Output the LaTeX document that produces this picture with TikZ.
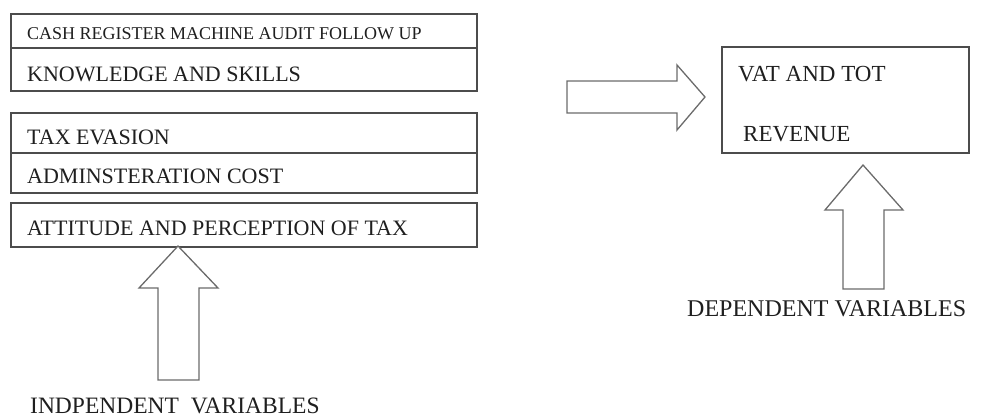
\documentclass[tikz,border=0pt]{standalone}
\usepackage{fontspec}
\setmainfont{Liberation Serif}
\definecolor{linegray}{gray}{0.3}
\definecolor{arrowgray}{gray}{0.42}
\definecolor{textgray}{gray}{0.12}
\begin{document}
\begin{tikzpicture}[x=1pt,y=-1pt,
  box/.style={draw=linegray, line width=1.5pt, inner sep=0pt, outer sep=0pt, anchor=north west},
  lbl/.style={anchor=base west, inner sep=0pt, text=textgray, font=\fontsize{22}{22}\selectfont},
  small/.style={lbl, font=\fontsize{18}{18}\selectfont},
  big/.style={lbl, font=\fontsize{23.5}{23.5}\selectfont},
  divider/.style={draw=linegray, line width=1.5pt},
  blockarrow/.style={draw=arrowgray, line width=1.3pt, fill=white, line join=miter}]
\useasboundingbox (0,0) rectangle (990,417);

% independent variable boxes
\node[box, minimum width=466pt, minimum height=77pt] (g1) at (11,14) {};
\node[box, minimum width=466pt, minimum height=80pt] (g2) at (11,113) {};
\node[box, minimum width=466pt, minimum height=44pt] (g3) at (11,203) {};
\coordinate (d1a) at (11,48);  \coordinate (d1b) at (477,48);
\coordinate (d2a) at (11,153); \coordinate (d2b) at (477,153);
\draw[divider] (d1a) -- (d1b);
\draw[divider] (d2a) -- (d2b);

\node[small] (t1) at (27,40)  {CASH REGISTER MACHINE AUDIT FOLLOW UP};
\node[lbl]   (t2) at (27,82)  {KNOWLEDGE AND SKILLS};
\node[lbl]   (t3) at (27,144) {TAX EVASION};
\node[lbl]   (t4) at (27,183) {ADMINSTERATION COST};
\node[lbl]   (t5) at (27,235) {ATTITUDE AND PERCEPTION OF TAX};

% dependent variable box
\node[box, minimum width=247pt, minimum height=106pt] (dep) at (722,47) {};
\node[lbl, font=\fontsize{23}{23}\selectfont] (t6) at (738,82)  {VAT AND TOT};
\node[lbl, font=\fontsize{23}{23}\selectfont] (t7) at (743,142) {REVENUE};

% block arrows
\draw[blockarrow] (158,380) -- (158,288) -- (139,288) -- (178,246) -- (218,288)
  -- (199,288) -- (199,380) -- cycle;
\draw[blockarrow] (567,81) -- (677,81) -- (677,65) -- (705,97) -- (677,130)
  -- (677,113) -- (567,113) -- cycle;
\draw[blockarrow] (843,289) -- (843,210) -- (825,210) -- (863,165) -- (903,210)
  -- (884,210) -- (884,289) -- cycle;

% captions
\node[big] (indep) at (30,413)  {INDPENDENT\ \ VARIABLES};
\node[big, font=\fontsize{24}{24}\selectfont] (depl) at (687,316) {DEPENDENT VARIABLES};
\end{tikzpicture}
\end{document}
